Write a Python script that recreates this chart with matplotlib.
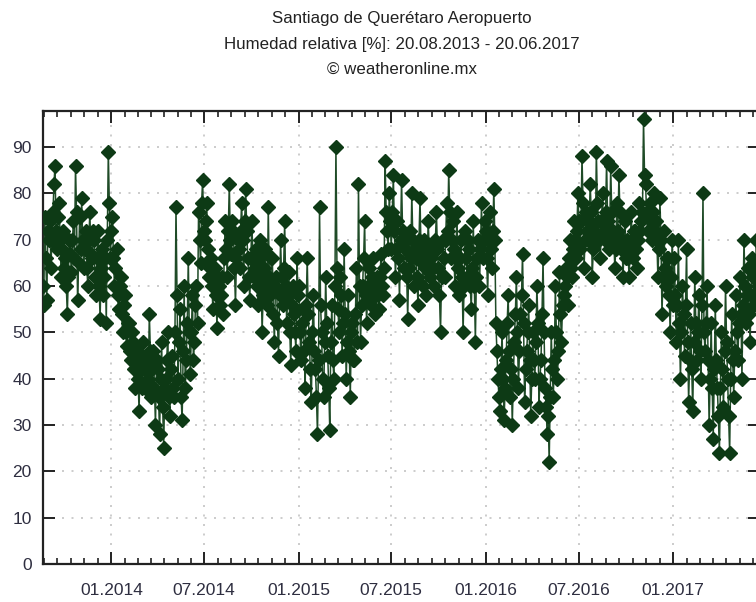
import matplotlib
matplotlib.use('Agg')
import matplotlib.pyplot as plt
import matplotlib.dates as mdates
import numpy as np
import pandas as pd

plt.rcParams['font.family'] = ['Liberation Sans', 'DejaVu Sans']

# ---- data (relative humidity, %) ----
# main readings every 4 days, plus in-between readings (2 days later)
start_date = '2013-08-20'
end_date = '2017-06-20'
step_days = 2

rh_2013 = [60, 75, 57,
           70, 64, 76, 86, 68, 78, 62, 72,
           66, 54, 70, 63, 74, 86, 57, 75,
           79, 64, 72, 60, 76, 66, 70,
           58, 72, 53, 68, 62, 52, 89, 66]
rh_2014 = [75, 60, 68, 55, 62, 50, 58, 47,
           52, 44, 48, 38, 46, 33, 42,
           48, 38, 44, 54, 36, 46, 30,
           42, 28, 48, 25, 40, 50, 32, 45,
           36, 77, 40, 55, 31, 60, 44, 66,
           41, 58, 48, 60, 76, 65, 83,
           70, 78, 62, 66, 55, 64, 51, 60,
           58, 54, 74, 62, 82, 67, 72, 56,
           70, 64, 78, 60, 81, 66, 57,
           74, 62, 68, 56, 70, 50, 64, 60,
           77, 58, 66, 48, 62, 45, 70,
           56, 74, 52, 63, 43, 60, 50, 66]
rh_2015 = [60, 44, 55, 38, 66, 48, 35, 58,
           42, 28, 77, 50, 36, 62, 45,
           29, 56, 40, 90, 55, 62, 45, 68,
           40, 58, 36, 52, 44, 64, 82,
           48, 60, 74, 52, 64, 56, 66, 54,
           62, 55, 67, 58, 87, 72, 80,
           68, 84, 62, 74, 57, 83, 64, 70,
           53, 72, 80, 60, 66, 56, 79, 65,
           70, 58, 74, 62, 68, 60, 76,
           64, 50, 70, 62, 78, 85, 66, 74,
           60, 76, 58, 70, 50, 72, 62, 68,
           55, 74, 48, 66, 60, 78, 70]
rh_2016 = [72, 58, 76, 64, 81, 52, 40, 33,
           50, 31, 44, 58, 36, 30, 48,
           62, 38, 54, 67, 35, 46, 56, 32,
           50, 40, 60, 34, 44, 66, 38, 28,
           22, 50, 36, 60, 40, 63, 48,
           58, 64, 56, 70, 62, 74, 66, 80,
           68, 88, 64, 76, 70, 82, 62, 72,
           89, 74, 66, 80, 70, 87, 68,
           86, 72, 64, 78, 84, 68, 62, 74,
           70, 62, 76, 66, 72, 64, 78, 74,
           96, 82, 72, 78, 70, 80, 74,
           62, 79, 54, 72, 60, 66, 50, 70]
rh_2017 = [66, 48, 70, 40, 60, 45, 68, 35,
           52, 33, 62, 44, 58, 40, 80,
           46, 60, 30, 52, 27, 56, 38,
           24, 50, 34, 60, 40, 24, 54, 36,
           58, 44, 62, 40, 70, 52, 64, 48,
           66, 56, 70, 60, 64]

rh_2013_mid = [56, 66, 72,
               74, 70, 82, 72, 75, 70, 68, 64,
               60, 62, 67, 70, 66, 76, 65, 68,
               70, 68, 64, 70, 67, 72, 62,
               66, 60, 64, 58, 66, 70, 78, 72]
rh_2014_mid = [66, 64, 58, 60, 54, 56, 50, 52,
               46, 50, 42, 44, 40, 45, 38,
               42, 44, 40, 46, 42, 38, 44,
               36, 40, 34, 38, 44, 36, 42, 38,
               50, 58, 48, 36, 46, 38, 52, 50,
               50, 44, 56, 52, 70, 78, 72,
               74, 68, 64, 60, 62, 58, 62, 56,
               62, 66, 68, 72, 70, 74, 64, 66,
               68, 72, 70, 74, 72, 62, 66,
               66, 64, 60, 66, 62, 58, 68, 56,
               62, 66, 54, 60, 52, 58, 62,
               64, 60, 58, 50, 56, 54, 46, 58]
rh_2015_mid = [50, 52, 46, 56, 54, 42, 50, 46,
               36, 44, 56, 40, 48, 52, 38,
               48, 44, 60, 64, 50, 58, 52, 54,
               48, 46, 50, 44, 54, 48, 60,
               56, 66, 58, 60, 58, 62, 60, 58,
               58, 62, 60, 64, 76, 68, 74,
               76, 72, 68, 66, 70, 72, 68, 62,
               64, 66, 70, 68, 62, 70, 68, 60,
               64, 66, 68, 66, 64, 70, 68,
               58, 62, 66, 70, 72, 76, 70, 68,
               66, 64, 66, 62, 60, 66, 70, 60,
               64, 60, 62, 70, 68, 66, 74]
rh_2016_mid = [66, 70, 68, 72, 70, 46, 36, 42,
               40, 38, 52, 46, 42, 40, 54,
               50, 46, 58, 52, 42, 50, 44, 40,
               44, 48, 52, 40, 54, 50, 34, 32,
               36, 42, 44, 50, 46, 54, 56,
               60, 62, 66, 64, 68, 70, 72, 74,
               74, 78, 70, 72, 74, 76, 68, 70,
               78, 70, 74, 72, 76, 74, 72,
               76, 70, 68, 72, 76, 70, 68, 66,
               66, 68, 70, 72, 68, 70, 72, 76,
               84, 76, 76, 74, 76, 72, 70,
               68, 70, 62, 64, 66, 58, 62, 56]
rh_2017_mid = [58, 56, 52, 50, 54, 56, 48, 44,
               42, 48, 52, 50, 46, 56, 50,
               52, 44, 40, 38, 42, 44, 32,
               38, 42, 46, 48, 32, 40, 44, 46,
               50, 52, 54, 56, 60, 58, 54, 58,
               62, 58, 64, 62]

main_vals = rh_2013 + rh_2014 + rh_2015 + rh_2016 + rh_2017
mid_vals = rh_2013_mid + rh_2014_mid + rh_2015_mid + rh_2016_mid + rh_2017_mid
humidity = []
for i, v in enumerate(main_vals):
    humidity.append(v)
    if i < len(mid_vals):
        humidity.append(mid_vals[i])
dates = pd.date_range(start_date, periods=len(humidity), freq=f'{step_days}D')

x_tick_dates = pd.date_range('2014-01-01', '2017-01-01', freq='6MS')
x_tick_labels = ['01.2014', '07.2014', '01.2015', '07.2015',
                 '01.2016', '07.2016', '01.2017']
y_ticks = [0, 10, 20, 30, 40, 50, 60, 70, 80, 90]
title_lines = ['Santiago de Querétaro Aeropuerto',
               'Humedad relativa [%]: 20.08.2013 - 20.06.2017',
               '© weatheronline.mx']

# ---- figure ----
W, H = 756, 602
fig = plt.figure(figsize=(W / 100, H / 100), dpi=100, facecolor='white')
left_px, right_px, top_px, bottom_px = 42.7, 760.4, 111, 564
ax = fig.add_axes([left_px / W, (H - bottom_px) / H,
                   (right_px - left_px) / W, (bottom_px - top_px) / H])

ax.plot(dates, humidity, color='#1f4b27', lw=1.1, marker='D', ms=6.8,
        mfc='#0d3a15', mec='#0d3a15', zorder=3)

x0 = mdates.date2num(pd.Timestamp(start_date))
x1 = mdates.date2num(pd.Timestamp(end_date))
ax.set_xlim(x0, x1)
ax.set_ylim(0, 97.8)

ax.set_xticks(mdates.date2num(x_tick_dates))
ax.set_xticklabels(x_tick_labels)
ax.set_yticks(y_ticks)
ax.set_yticklabels([str(v) for v in y_ticks])

# minor ticks: 7 subdivisions between half-year majors
ext_majors = mdates.date2num(pd.date_range('2013-07-01', '2017-07-01', freq='6MS'))
minors = []
for a, b in zip(ext_majors[:-1], ext_majors[1:]):
    minors.extend(np.linspace(a, b, 8)[1:-1])
minors = [m for m in minors if x0 < m < x1]
ax.set_xticks(minors, minor=True)

ax.grid(True, which='major', color='#c4c4c4', linestyle=(0, (1.2, 4.5)), lw=1.2)
ax.set_axisbelow(True)

ax.tick_params(which='both', direction='in', top=True, right=True,
               color='#222222', labelcolor='#2e2e40', labelsize=12.5)
ax.tick_params(which='major', length=8.6, width=1.4)
ax.tick_params(which='minor', length=4.3, width=1.2)
ax.tick_params(axis='x', which='major', pad=14)
ax.tick_params(axis='y', which='major', pad=8)

for s in ax.spines.values():
    s.set_linewidth(1.6)
    s.set_color('#222222')

cx = ((left_px + right_px) / 2) / W
for txt, ypx in zip(title_lines, [18, 45, 69]):
    fig.text(cx, 1 - ypx / H, txt, ha='center', va='center',
             fontsize=12.2, color='#222222')

fig.savefig('out.png', dpi=100, facecolor='white')
